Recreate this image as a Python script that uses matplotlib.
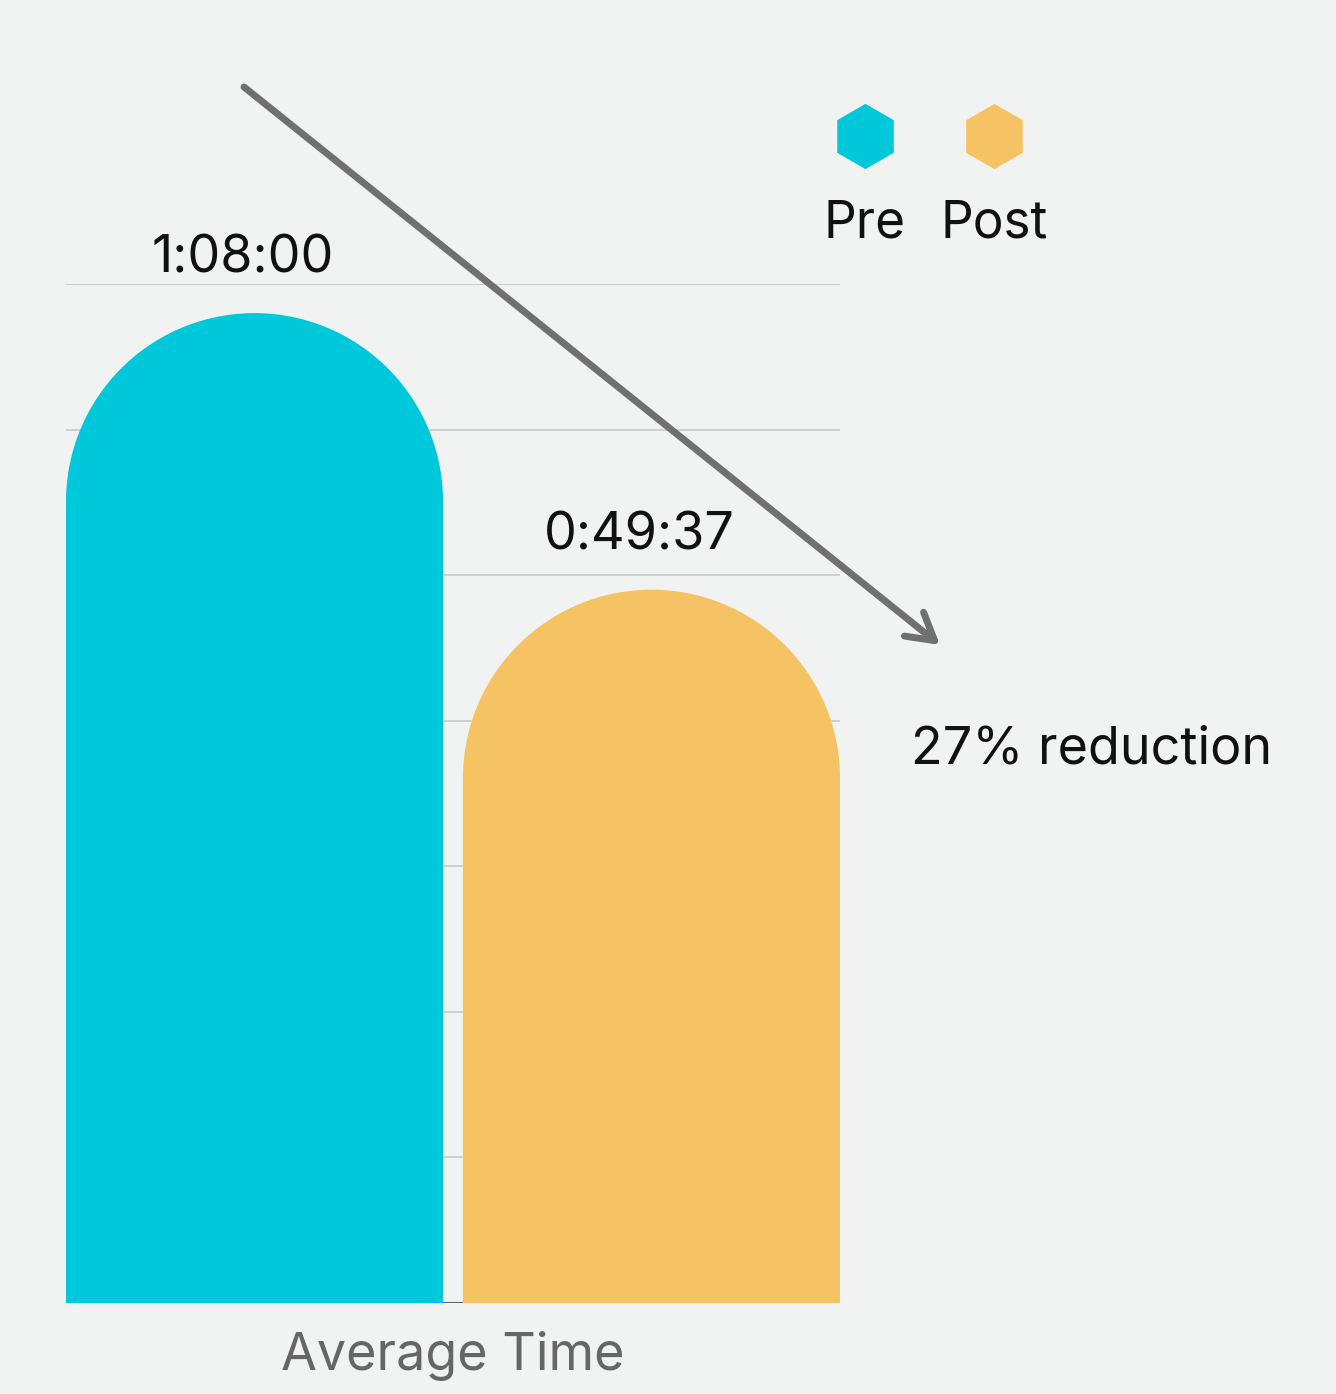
#!/usr/bin/env python3
"""Pre vs Post average time, rounded-top bars with a reduction arrow."""
import numpy as np
import matplotlib
matplotlib.use('Agg')
import matplotlib.pyplot as plt
from matplotlib.patches import Polygon, FancyArrowPatch
from matplotlib.lines import Line2D

# data (minutes) - bar heights as drawn, labels as printed
groups = ['Pre', 'Post']
labels = ['1:08:00', '0:49:37']
values = [68.0, 49.0]
colors = ['#00C8DB', '#F5C363']
reduction_text = '27% reduction'
xlabel = 'Average Time'

BG = '#F1F3F2'
W, H, DPI = 1336, 1394, 100
YMAX = 70
BAR_W = 0.95
FS = 37.5

plt.rcParams['font.family'] = ['Inter', 'DejaVu Sans']

fig = plt.figure(figsize=(W / DPI, H / DPI), dpi=DPI, facecolor=BG)
ax = fig.add_axes([66 / W, 1 - 1303 / H, (840 - 66) / W, (1303 - 284) / H])
ax.set_facecolor(BG)
xlim = (-BAR_W / 2, 1 + BAR_W / 2)
ax.set_xlim(*xlim)
ax.set_ylim(0, YMAX)
for s in ax.spines.values():
    s.set_visible(False)
ax.set_xticks([]); ax.set_yticks([])

# grid every 10 min, behind bars
for g in range(10, YMAX + 1, 10):
    ax.axhline(g, color='#CCCCCC', lw=1.3, zorder=0)
ax.axhline(0, color='#666666', lw=1.5, zorder=0)

# pixel scale so the caps are round on screen
ax_w_px = (840 - 66)
ax_h_px = (1303 - 284)
px_x = ax_w_px / (xlim[1] - xlim[0])
px_y = ax_h_px / YMAX
r_y = (BAR_W / 2 * px_x) / px_y

xs = np.arange(len(values))
for x, v, c, lab in zip(xs, values, colors, labels):
    t = np.linspace(np.pi, 0, 120)
    arc = np.column_stack([x + BAR_W / 2 * np.cos(t), v - r_y + r_y * np.sin(t)])
    pts = np.vstack([[x - BAR_W / 2, 0], arc, [x + BAR_W / 2, 0]])
    ax.add_patch(Polygon(pts, closed=True, facecolor=c, edgecolor='none', zorder=2))
    ax.annotate(lab, (x - 0.03, v), xytext=(0, 29), textcoords='offset points',
                ha='center', va='baseline', fontsize=FS, color='#111111',
                annotation_clip=False, zorder=3)

ax.text(0.5, -(1370 - 1303) / ax_h_px, xlabel, transform=ax.transAxes,
        ha='center', va='baseline', fontsize=FS, color='#666666')

# legend: hexagon over name
leg_x = [865 / W, 994 / W]
for lx, name, c in zip(leg_x, groups, colors):
    fig.add_artist(Line2D([lx], [1 - 136 / H], marker='h', ms=47, color=c,
                          mec='none', transform=fig.transFigure))
    fig.text(lx, 1 - 237 / H, name, ha='center', va='baseline', fontsize=FS - 0.5,
             color='#111111')

# reduction arrow
fig.add_artist(FancyArrowPatch(
    (244 / W, 1 - 87 / H), (940 / W, 1 - 645 / H), transform=fig.transFigure,
    arrowstyle='->,head_length=0.95,head_width=0.55', color='#707070',
    lw=5, capstyle='round', joinstyle='round', mutation_scale=20,
    shrinkA=0, shrinkB=0))
fig.text(911 / W, 1 - 763 / H, reduction_text, ha='left', va='baseline',
         fontsize=FS, color='#111111')

fig.savefig('out.png', dpi=DPI, facecolor=BG)
